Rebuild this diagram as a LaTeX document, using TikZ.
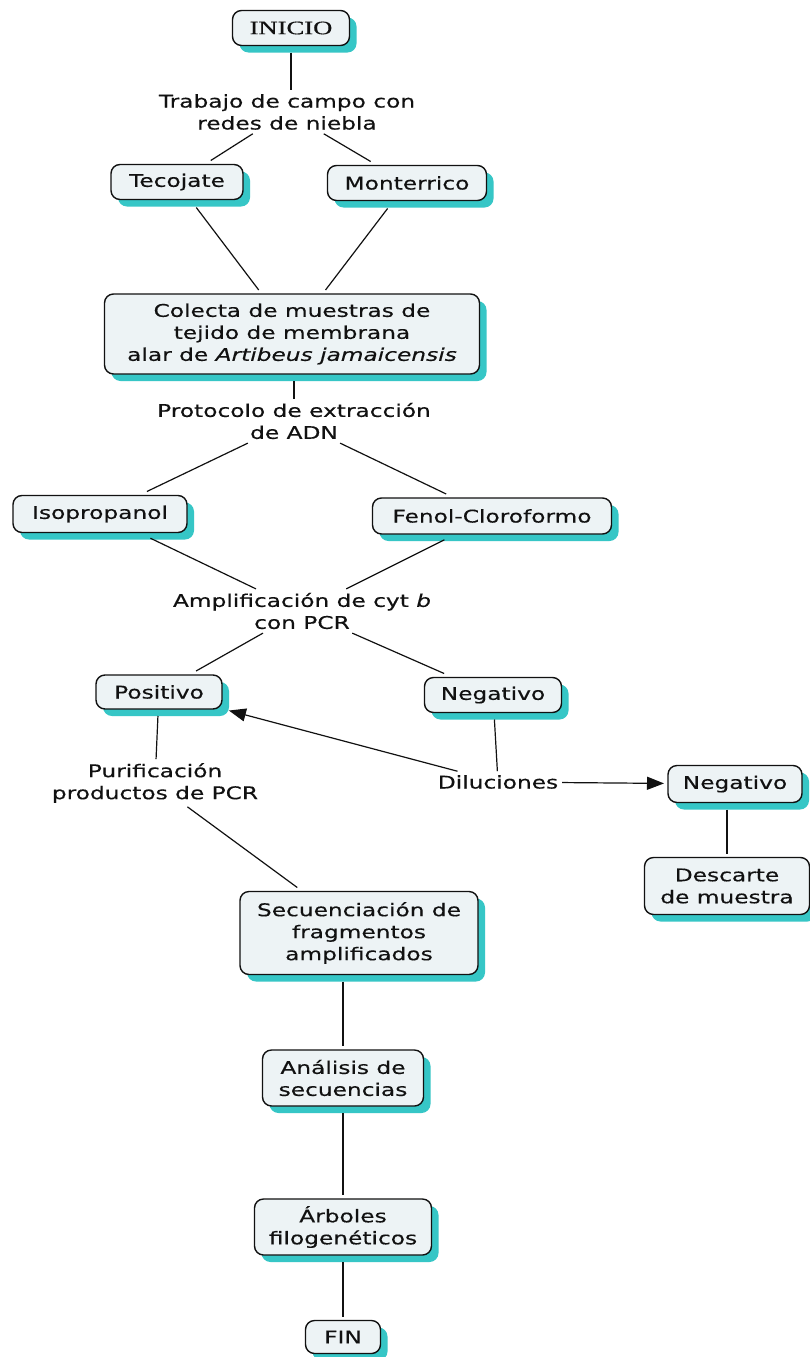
\documentclass[tikz,border=0pt]{standalone}
\usepackage{fontspec}
\setmainfont{DejaVu Sans}[FakeStretch=1.33,FakeBold=0.4]
\newfontfamily\inifont{Liberation Serif}[FakeStretch=1.4,FakeBold=0.5]
\usetikzlibrary{shadows,arrows.meta}
\definecolor{boxfill}{HTML}{EDF3F5}
\definecolor{shade}{HTML}{36C6C6}
\definecolor{ink}{HTML}{111111}
\newcommand{\fs}{\fontsize{17.5}{22}\selectfont}
\begin{document}
\begin{tikzpicture}[x=1pt,y=-1pt,
  box/.style={draw=ink, line width=1.4pt, fill=boxfill, rounded corners=9pt,
    align=center, inner sep=0pt, outer sep=4pt, font=\fs, text=ink,
    drop shadow={fill=shade, opacity=1, shadow xshift=7pt, shadow yshift=-7pt}},
  lab/.style={align=center, inner sep=1pt, outer sep=3pt, font=\fs, text=ink},
  conn/.style={line width=1.2pt, ink},
  arr/.style={conn, -{Triangle[length=17pt,width=13pt]}}]
\fill[white] (0,0) rectangle (810,1357);
\useasboundingbox (0,0) rectangle (810,1357);

% boxes
\node[box, minimum width=117pt, minimum height=35pt, font=\inifont\fontsize{19}{22}\selectfont] (ini) at (291,28) {INICIO};
\node[box, minimum width=132pt, minimum height=35pt] (tec) at (177,182) {Tecojate};
\node[box, minimum width=159pt, minimum height=35pt] (mon) at (407,183) {Monterrico};
\node[box, minimum width=375pt, minimum height=80pt] (col) at (292,334) {Colecta de muestras de\\tejido de membrana\\alar de \textit{Artibeus jamaicensis}};
\node[box, minimum width=174pt, minimum height=37pt] (iso) at (100,514) {Isopropanol};
\node[box, minimum width=239pt, minimum height=36pt] (fen) at (492,516) {Fenol-Cloroformo};
\node[box, minimum width=126pt, minimum height=34pt] (pos) at (159,692) {Positivo};
\node[box, minimum width=137pt, minimum height=35pt] (neg) at (493,695) {Negativo};
\node[box, minimum width=134pt, minimum height=37pt] (negb) at (735,784) {Negativo};
\node[box, minimum width=165pt, minimum height=57pt] (desc) at (727,886) {Descarte\\de muestra};
\node[box, minimum width=238pt, minimum height=83pt] (sec) at (359,933) {Secuenciación de\\fragmentos\\amplificados};
\node[box, minimum width=161pt, minimum height=56pt] (ana) at (343,1078) {Análisis de\\secuencias};
\node[box, minimum width=177pt, minimum height=56pt] (arb) at (343,1227) {Árboles\\filogenéticos};
\node[box, minimum width=75pt, minimum height=33pt] (fin) at (343,1337) {FIN};

% labels
\node[lab] (trab) at (287,112) {Trabajo de campo con\\redes de niebla};
\node[lab] (prot) at (294,421) {Protocolo de extracción\\de ADN};
\node[lab] (amp) at (302,611) {Amplificación de cyt \textit{b}\\con PCR};
\node[lab] (pur) at (155,783) {Purificación\\productos de PCR};
\node[lab] (dil) at (498,782) {Diluciones};

% connectors
\draw[conn, shorten <=3pt] (ini) -- (ini |- trab.north);
\draw[conn] (trab) -- (tec);
\draw[conn] (trab) -- (mon);
\draw[conn, shorten <=5pt] (tec) -- (col);
\draw[conn, shorten <=5pt] (mon) -- (col);
\draw[conn, shorten <=3pt] (prot |- col.south) -- (prot);
\draw[conn] (prot) -- (iso);
\draw[conn] (prot) -- (fen);
\draw[conn, shorten <=4pt] (iso) -- (amp);
\draw[conn, shorten <=4pt] (fen) -- (amp);
\draw[conn] (amp) -- (pos);
\draw[conn] (amp) -- (neg);
\draw[conn, shorten <=3pt] (neg) -- (dil);
\draw[arr, shorten >=3pt] (dil) -- (pos);
\draw[arr] (dil) -- (negb);
\draw[conn, shorten <=3pt] (pos) -- (pur);
\draw[conn] (pur) -- (sec);
\draw[conn, shorten <=3pt] (desc |- negb.south) -- (desc);
\draw[conn, shorten <=3pt] (ana |- sec.south) -- (ana);
\draw[conn, shorten <=3pt] (ana) -- (arb);
\draw[conn, shorten <=3pt] (arb) -- (fin);
\end{tikzpicture}
\end{document}
